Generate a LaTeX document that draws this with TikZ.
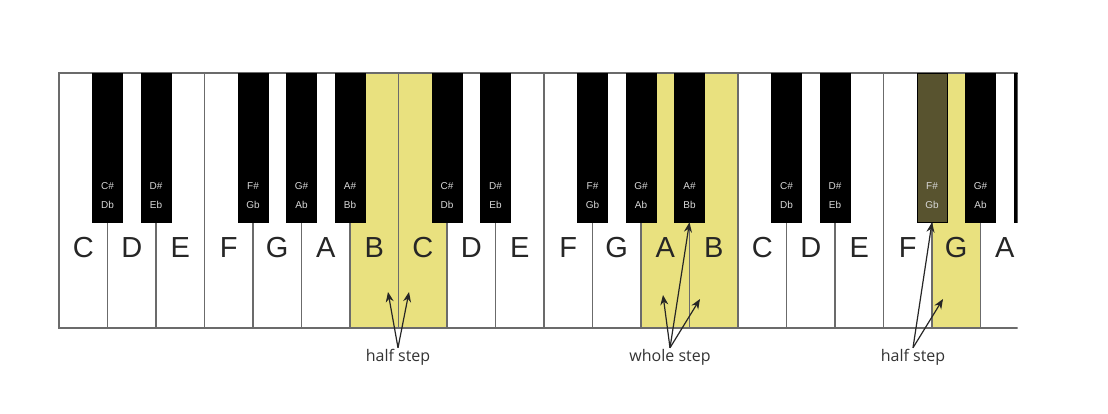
\documentclass[tikz,border=0pt]{standalone}
\usepackage{fontspec}
\setmainfont{Liberation Sans}
\newfontfamily\stepfont{Open Sans}
\usetikzlibrary{positioning, arrows.meta}
\tikzset{>={Stealth[length=10pt,width=8pt]}}
\definecolor{keyhl}{HTML}{E9E17F}
\definecolor{keydark}{HTML}{58532F}
\definecolor{keyline}{HTML}{6B6B6B}

\begin{document}
\begin{tikzpicture}[x=1pt, y=-1pt,
  whitekey/.style={draw=keyline, line width=1.5pt, minimum width=48.5pt, minimum height=255pt, inner sep=0pt},
  blackkey/.style={draw=black, line width=0.5pt, minimum width=30pt, minimum height=149pt, inner sep=0pt},
  wlabel/.style={font=\fontsize{29}{29}\selectfont, text=black!85},
  blabel/.style={font=\fontsize{10}{19}\selectfont, text=black!15, align=center, inner sep=0pt},
  steplabel/.style={font=\stepfont\fontsize{16}{16}\selectfont, text=black!80, inner sep=1pt},
  steparrow/.style={->, line width=1.2pt, draw=black!85}]
\useasboundingbox[fill=white] (0,0) rectangle (1108,414);
\begin{scope}
\clip (50,60) rectangle (1017.5,340);
% white keys
\foreach \i/\nm/\c in {0/C/white,1/D/white,2/E/white,3/F/white,4/G/white,5/A/white,6/B/keyhl,
  7/C/keyhl,8/D/white,9/E/white,10/F/white,11/G/white,12/A/keyhl,13/B/keyhl,
  14/C/white,15/D/white,16/E/white,17/F/white,18/G/keyhl,19/A/white}
{
\node[whitekey, fill=\c] (w\i) at ({83.25+48.5*\i},200.5) {};
\node[wlabel] (l\i) at ({83.25+48.5*\i},248) {\nm};
}
% black keys
\foreach \k/\up/\dn/\c in {1/C/D/black,2/D/E/black,4/F/G/black,5/G/A/black,6/A/B/black,
  8/C/D/black,9/D/E/black,11/F/G/black,12/G/A/black,13/A/B/black,
  15/C/D/black,16/D/E/black,18/F/G/keydark,19/G/A/black,20/A/B/black}
{
\node[blackkey, fill=\c] (b\k) at ({59+48.5*\k},147.5) {};
\node[blabel, above=13.5pt of b\k.south] (t\k) {\up\#\\\dn b};
}
\end{scope}
% steps
\node[steplabel] (hs1) at (398,357) {half step};
\node[steplabel] (ws) at (670,357) {whole step};
\node[steplabel] (hs2) at (913,357) {half step};
\coordinate (hs1a) at (388,292);
\coordinate (hs1b) at (409,292);
\coordinate (wsa) at (663,295);
\coordinate (wsb) at (700,299);
\coordinate (hs2a) at (943,299);
\draw[steparrow] (hs1.north) -- (hs1a);
\draw[steparrow] (hs1.north) -- (hs1b);
\draw[steparrow] (ws.north) -- (wsa);
\draw[steparrow] (ws.north) -- (b13.south);
\draw[steparrow] (ws.north) -- (wsb);
\draw[steparrow] (hs2.north) -- (b18.south);
\draw[steparrow] (hs2.north) -- (hs2a);
\end{tikzpicture}
\end{document}
